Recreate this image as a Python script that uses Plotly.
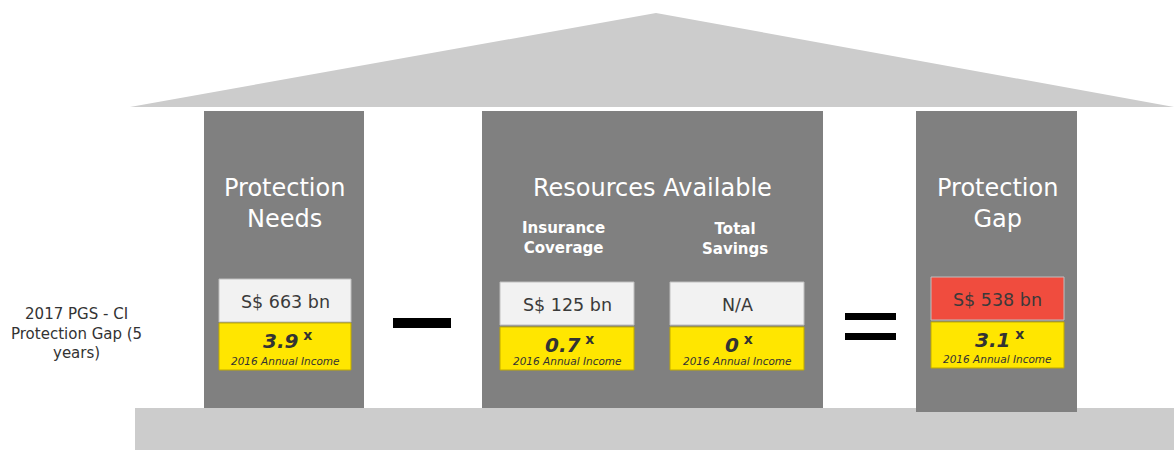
import plotly.graph_objects as go

# ---- data ----
column_titles = ["Protection<br>Needs", "Resources Available", "Protection<br>Gap"]
sub_titles = ["Insurance<br>Coverage", "Total<br>Savings"]
amounts = ["S$ 663 bn", "S$ 125 bn", "N/A", "S$ 538 bn"]
multiples = ["3.9", "0.7", "0", "3.1"]
income_label = "2016 Annual Income"
row_label = "2017 PGS - CI<br>Protection Gap (5<br>years)"

# ---- layout geometry (pixel space of the page) ----
W, H = 1174, 450
GRAY = "#808080"
LIGHT = "#cccccc"
BOX = "#f2f2f2"
YEL = "#ffe600"
RED = "#f04c3e"
TXT = "#333333"

columns = [(204, 364, 111, 408), (482, 823, 111, 408), (916, 1077, 111, 412)]
value_boxes = [(219, 351, 279, 322), (500, 634, 282, 325), (670, 804, 282, 325), (931, 1064, 277, 320)]
yellow_boxes = [(219, 351, 323, 370), (500, 634, 327, 370), (670, 804, 327, 370), (931, 1064, 322, 368)]
box_colors = [BOX, BOX, BOX, RED]

fig = go.Figure()
shapes = []
# roof
shapes.append(dict(type="path", path="M 130 107 L 656 13 L 1174 107 Z",
                   fillcolor=LIGHT, line=dict(width=0), layer="below"))
# floor
shapes.append(dict(type="rect", x0=135, x1=1174, y0=408, y1=450, fillcolor=LIGHT, line=dict(width=0)))
# columns
for x0, x1, y0, y1 in columns:
    shapes.append(dict(type="rect", x0=x0, x1=x1, y0=y0, y1=y1, fillcolor=GRAY, line=dict(width=0)))
# value boxes
for (x0, x1, y0, y1), c in zip(value_boxes, box_colors):
    shapes.append(dict(type="rect", x0=x0, x1=x1, y0=y0, y1=y1, fillcolor=c,
                       line=dict(width=1, color="#bfbfbf")))
for x0, x1, y0, y1 in yellow_boxes:
    shapes.append(dict(type="rect", x0=x0, x1=x1, y0=y0, y1=y1, fillcolor=YEL,
                       line=dict(width=1, color="#bfa900")))
# minus and equals
shapes.append(dict(type="rect", x0=393, x1=451, y0=318, y1=328, fillcolor="black", line=dict(width=0)))
shapes.append(dict(type="rect", x0=845, x1=896, y0=313, y1=320, fillcolor="black", line=dict(width=0)))
shapes.append(dict(type="rect", x0=845, x1=896, y0=333, y1=340, fillcolor="black", line=dict(width=0)))

ann = []
FONT = "DejaVu Sans"
title_pos = [(284, 203), (652, 188), (997, 203)]
for t, (x, y) in zip(column_titles, title_pos):
    ann.append(dict(x=x, y=y, text=t, showarrow=False, xanchor="center", yanchor="middle",
                    font=dict(family=FONT, size=24, color="white")))
sub_pos = [(563, 238), (735, 239)]
for t, (x, y) in zip(sub_titles, sub_pos):
    ann.append(dict(x=x, y=y, text="<b>" + t + "</b>", showarrow=False, xanchor="center", yanchor="middle",
                    font=dict(family=FONT, size=15, color="white")))
for t, (x0, x1, y0, y1), c in zip(amounts, value_boxes, box_colors):
    ann.append(dict(x=(x0 + x1) / 2, y=(y0 + y1) / 2 + 1, text=t, showarrow=False,
                    xanchor="center", yanchor="middle",
                    font=dict(family=FONT, size=17.5, color="#3a3a3a")))
for m, (x0, x1, y0, y1) in zip(multiples, yellow_boxes):
    cx = (x0 + x1) / 2
    ann.append(dict(x=cx + 2, y=y0 + 17, text="<b><i>" + m + "</i><sup> x</sup></b>", showarrow=False,
                    xanchor="center", yanchor="middle",
                    font=dict(family=FONT, size=20, color=TXT)))
    ann.append(dict(x=cx, y=y1 - 9, text="<i>" + income_label + "</i>", showarrow=False,
                    xanchor="center", yanchor="middle",
                    font=dict(family=FONT, size=10.5, color=TXT)))
ann.append(dict(x=76, y=333, text=row_label, showarrow=False, xanchor="center", yanchor="middle",
                align="center", font=dict(family=FONT, size=15, color="#333333")))

fig.update_layout(
    width=W, height=H,
    margin=dict(l=0, r=0, t=0, b=0),
    paper_bgcolor="white", plot_bgcolor="white",
    xaxis=dict(range=[0, W], visible=False, fixedrange=True),
    yaxis=dict(range=[H, 0], visible=False, fixedrange=True),
    shapes=shapes, annotations=ann, showlegend=False,
)
fig.write_html("out.html", config={"displayModeBar": False},
               post_script="document.body.style.margin='0';document.body.style.overflow='hidden';")
